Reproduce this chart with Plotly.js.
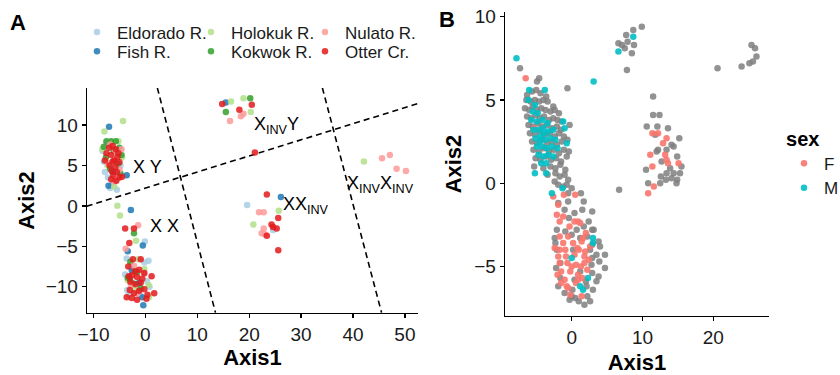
<!DOCTYPE html>
<html>
<head>
<meta charset="utf-8">
<script src="https://cdn.plot.ly/plotly-3.0.1.min.js"></script>
<style>html,body{margin:0;padding:0;background:#fff;}#chart{width:840px;height:375px;}</style>
</head>
<body>
<div id="chart"></div>
<script>
// ---------- Panel A: populations (Axis1, Axis2) ----------
const populations = ["Eldorado R.", "Fish R.", "Holokuk R.", "Kokwok R.", "Nulato R.", "Otter Cr."];
const popColors = ["#a6cee3", "#1f78b4", "#b2df8a", "#33a02c", "#fb9a99", "#e31a1c"];

const eldoradoX = [-8.2,-7.8,-7.2,-6.3,-5.5,-6.8,-7.5,-4.8,-8.0, -0.1,-3.6,-0.2,0.6,-3.9,0.3,-3.5,-1.0,0.8,-2.7,-3.2, 19.6,24.6];
const eldoradoY = [6.8,4.2,3.5,2.8,2.0,2.2,7.8,5.0,5.5, -4.4,-6.5,-7.0,-6.8,-8.5,-9.3,-10.4,-11.1,-10.0,-7.6,-11.0, 0.1,-3.0];

const fishX = [-7.0,-7.1,-3.6,-6.2, -2.8,-0.5,-3.4,-0.4,-2.6,-1.2,-0.6, 15.5, 26.1];
const fishY = [9.8,2.5,3.8,4.2, -0.5,-4.9,-5.6,-12.3,-8.0,-9.5,-11.3, 12.8, 1.1];

const holokukX = [-4.3,-7.9,-5.2,-8.3,-4.5,-6.0,-7.3, -5.4,-4.9,-1.8,-0.2,-3.4,0.6,-2.0,0.7,-1.4, 16.5,18.9,20.3, 25.7,20.8, 42.1];
const holokukY = [10.5,9.2,8.0,7.0,6.0,2.4,5.0, 0.0,-1.2,-4.3,-7.8,-9.2,-9.8,-10.4,-11.3,-6.6, 12.9,13.3,11.6, -0.6,-2.3, 5.5];

const kokwokX = [-7.5,-6.6,-5.7,-8.0,-5.0,-4.6,-7.6,-5.3,-6.8,-4.8,-6.1, -2.2,-2.9,-3.4,-1.6,-2.3,-0.9,-3.0, 20.2,15.5];
const kokwokY = [8.0,8.0,8.0,7.3,7.2,6.3,6.0,5.2,4.6,4.0,6.8, -3.4,-6.9,-8.9,-8.2,-9.6,-10.2,-9.0, 13.3,11.6];

const nulatoX = [-6.8,-5.8,-4.6,-7.2,-5.0,-6.0, -1.4,-3.8,-2.2,-0.3,-1.5,-2.8, 18.9,16.3,18.4, 21.9,22.8,22.8,22.4,23.0, 45.6,47.1,48.4,50.2];
const nulatoY = [7.6,6.7,7.0,5.3,4.5,3.0, -2.4,-5.3,-7.4,-8.4,-10.8,-9.8, 11.4,10.5,11.1, -0.8,-0.8,-2.8,-3.4,-3.5, 5.9,6.3,4.6,4.3];

const otterX = [-7.0,-6.3,-5.7,-7.5,-6.6,-5.2,-7.8,-6.0,-5.0,-6.9,-5.8,-6.5,-5.5,-6.2,-5.0,-6.6,-5.6,-4.5,-6.3,-5.4,
  -3.9,-2.2,-3.1,1.2,1.7,-2.4,-0.9,-3.3,-2.0,-1.2,-0.2,-3.2,-2.6,-1.6,-0.6,-2.9,-1.9,-0.9,-3.0,-2.2,-1.2,-0.2,0.4,-2.6,-1.6,0.2,-3.6,
  14.8,18.1,20.5,21.1, 23.4,25.6,24.3,24.6,25.3,23.4,25.6];
const otterY = [7.2,7.4,7.0,6.5,6.3,6.5,5.6,5.6,5.4,5.0,4.8,4.3,4.2,3.8,3.5,3.3,3.1,3.6,5.5,6.0,
  -2.8,-2.8,-4.6,-8.7,-10.8,-6.6,-6.6,-7.5,-8.1,-7.9,-8.3,-8.7,-8.6,-8.8,-9.0,-9.4,-9.7,-9.5,-10.4,-10.8,-10.5,-10.3,-11.0,-11.4,-11.6,-11.5,-11.3,
  12.6,11.9,12.5,6.6, 1.4,-1.5,-2.3,-2.6,-2.8,-3.7,-5.5];

// karyotype boundary lines (dashed)
const diagX = [-11.3, 53.0];
const diagY = [-0.05, 12.75];
const leftBoundX = [2.3, 13.5];
const leftBoundY = [14.6, -13.2];
const rightBoundX = [34.1, 45.5];
const rightBoundY = [14.6, -13.2];

// karyotype labels
const karyoText = ["X Y", "X X", "X<sub>INV</sub>Y", "XX<sub>INV</sub>", "X<sub>INV</sub>X<sub>INV</sub>"];
const karyoX = [-2.8, 0.5, 20.6, 26.1, 38.5];
const karyoY = [4.8, -2.5, 10.0, 0.1, 2.7];

// ---------- Panel B: sex ----------
const sexLevels = ["F", "M"];
const sexColors = ["#F8766D", "#00BFC4"];

const naX = [
  -7.3,-4.9,-4.6,-0.6,
  -5.6,-5.0,-4.4,-3.6,-6.3,
  -6.4,-5.8,-5.2,-4.6,-4.0,-3.4,-2.6,
  -6.6,-6.0,-5.5,-4.9,-4.3,-3.7,-3.0,-2.4,-1.8,
  -6.3,-5.7,-5.1,-4.5,-3.9,-3.2,-2.6,-2.0,-1.4,
  -6.1,-5.5,-4.8,-4.2,-3.5,-2.8,-2.1,-1.5,-0.3,
  -5.9,-5.2,-4.5,-3.8,-3.1,-2.4,-1.8,-1.1,
  -5.6,-4.9,-4.2,-3.5,-2.8,-2.1,-1.4,-0.6,
  -5.4,-4.6,-3.9,-3.2,-2.5,-1.8,-1.1,-0.4,
  -5.1,-4.4,-3.6,-2.9,-2.2,-1.5,-0.7,
  -5.3,-4.0,-3.0,-2.3,-1.6,-0.9,
  -3.4,-2.3,-1.7,-1.0,
  -2.4,-1.9,-1.2,-0.7,0.0,-0.5,
  -1.9,-0.5,1.7,1.3,-0.5,0.4,1.5,2.9,-1.0,2.4,-0.4,-2.1,-0.9,0.7,1.7,2.9,3.1,0.0,1.2,2.2,3.8,-2.4,-2.3,2.9,4.0,
  0.2,2.6,-2.1,3.5,4.7,2.9,3.9,2.8,4.7,1.2,2.9,3.8,-1.6,0.4,2.0,3.5,0.1,2.1,3.0,0.0,2.2,0.5,1.0,2.6,1.8,-1.0,-1.6,-2.2,-1.9,-0.3,
  6.7,
  11.5,11.5,12.4,10.6,12.1,13.6,15.2,14.4,12.0,14.9,12.7,13.9,15.5,10.5,13.4,14.4,15.3,12.6,14.1,14.9,12.5,13.3,10.8,14.8,11.8,12.2,14.1,13.4,
  9.9,8.7,7.7,6.6,7.9,8.8,7.5,8.5,7.1,7.8,
  20.6,24.0,25.1,25.6,26.1,25.4,25.9
];
const naY = [
  6.9,6.1,6.3,5.7,
  5.5,5.6,5.4,5.2,5.3,
  5.0,4.9,5.0,4.9,5.0,4.9,4.6,
  4.5,4.4,4.6,4.4,4.5,4.4,4.3,4.4,4.2,
  4.0,3.9,4.1,3.9,4.0,3.8,3.9,3.8,3.7,
  3.5,3.4,3.6,3.4,3.5,3.3,3.4,3.2,3.5,
  3.0,2.9,3.1,2.9,3.0,2.8,3.0,2.8,
  2.5,2.4,2.6,2.4,2.5,2.3,2.5,2.6,
  2.0,1.9,2.1,1.9,2.0,1.8,2.0,1.9,
  1.5,1.4,1.6,1.4,1.5,1.3,1.6,
  1.0,0.9,1.0,0.9,1.1,0.8,
  0.5,0.6,0.4,0.5,
  0.1,-0.1,-0.2,-0.1,-0.3,0.2,
  -1.2,-1.1,-1.1,-0.6,-0.6,-1.8,-1.6,-1.7,-1.6,-2.3,-2.1,-2.8,-2.9,-2.8,-2.6,-2.8,-2.8,-3.1,-3.3,-3.2,-3.5,-3.3,-3.6,-3.7,-3.8,
  -4.0,-4.0,-4.0,-4.3,-4.3,-4.5,-4.7,-4.9,-5.1,-5.3,-5.4,-5.6,-5.7,-5.8,-5.9,-5.9,-6.4,-6.2,-6.4,-6.8,-6.8,-6.9,-7.1,-7.1,-7.3,-6.6,-4.8,-5.1,-6.2,-7.0,
  -0.4,
  5.2,4.1,4.1,3.4,3.4,3.3,2.7,2.2,1.9,1.6,1.3,0.9,1.0,0.8,0.6,0.6,0.6,0.4,0.3,0.2,0.0,0.2,0.0,0.0,2.9,2.0,2.3,2.0,
  9.4,9.2,8.9,8.4,8.5,8.3,8.1,7.8,8.3,6.8,
  6.9,7.0,7.2,7.3,7.6,8.3,8.1
];

const femaleX = [-6.5,-5.3,
  -2.6,-1.1,0.5,-1.9,-2.1,-1.7,0.4,0.9,1.2,-1.7,-0.5,1.6,-1.2,0.2,1.4,-1.7,-0.9,1.0,1.9,-1.9,0.4,1.8,-1.7,-0.6,0.6,1.8,2.4,
  -1.5,-0.2,0.9,2.2,-1.0,0.9,1.5,-0.5,0.6,-0.7,1.4,-1.5,-0.8,0.0,1.3,-2.4,2.6,-0.3,2.0,-1.2,0.8,-0.2,-2.0,
  11.4,12.2,13.4,12.9,11.1,13.2,13.4,11.4,15.1,13.6,11.6,10.8];
const femaleY = [6.3,3.3,
  -0.8,-0.7,-0.7,-1.3,-1.9,-2.3,-2.3,-2.3,-2.4,-3.2,-3.2,-3.3,-3.6,-3.6,-3.5,-4.0,-4.0,-4.0,-4.1,-4.4,-4.3,-4.4,-4.8,-4.8,-4.9,-4.8,-4.6,
  -5.3,-5.3,-5.5,-5.2,-5.8,-5.8,-5.7,-6.3,-6.0,-6.2,-6.8,-6.0,-4.4,-5.0,-5.0,-3.9,-3.8,-2.6,-3.0,-2.0,-3.9,-6.7,-5.5,
  3.0,3.0,2.7,2.4,1.7,1.7,1.4,1.0,1.2,1.2,-0.2,-0.6];

const maleX = [-7.8,3.1,-6.0,-3.8,-6.1,-5.2,-5.5,-4.8,-5.7,-4.9,-4.1,-3.4,-1.2,-5.4,-4.7,-4.0,-3.3,-2.6,-1.0,
  -5.1,-4.4,-3.7,-3.0,-2.3,-0.7,-4.9,-4.2,-3.5,-2.8,-2.0,-4.7,-4.0,-3.3,-2.6,-4.3,-3.6,-5.2,-3.6,-4.5,-3.9,
  -1.3,-2.8,3.0,3.0,2.3,1.6,0.0,1.2, 8.7,6.6];
const maleY = [7.5,6.1,5.6,5.6,5.0,4.7,4.3,4.2,3.8,3.7,3.8,3.6,3.7,3.2,3.2,3.3,3.1,3.2,3.3,
  2.7,2.8,2.6,2.7,2.6,2.4,2.2,2.2,2.1,2.2,2.1,1.7,1.6,1.7,1.6,1.2,1.2,0.6,0.6,2.5,3.0,
  -0.3,-0.6,-3.3,-3.6,-5.7,-6.4,-4.5,-6.2, 8.8,7.9];

// ---------- build traces ----------
const popX = [eldoradoX, fishX, holokukX, kokwokX, nulatoX, otterX];
const popY = [eldoradoY, fishY, holokukY, kokwokY, nulatoY, otterY];
// legend rows: row 1 = Eldorado/Holokuk/Nulato, row 2 = Fish/Kokwok/Otter
const popLegend = ["legend", "legend2", "legend", "legend2", "legend", "legend2"];

const traces = [];
const dashLine = {color: "#000", width: 1.6, dash: "6px,4px"};
[[diagX, diagY], [leftBoundX, leftBoundY], [rightBoundX, rightBoundY]].forEach(([lx, ly]) => {
  traces.push({type: "scatter", mode: "lines", x: lx, y: ly, xaxis: "x", yaxis: "y",
    line: dashLine, showlegend: false, hoverinfo: "skip"});
});
populations.forEach((name, i) => {
  traces.push({type: "scatter", mode: "markers", name: name, x: popX[i], y: popY[i],
    xaxis: "x", yaxis: "y", legend: popLegend[i],
    marker: {color: popColors[i], size: 6.5, opacity: 0.85}});
});
traces.push({type: "scatter", mode: "markers", name: "NA", x: naX, y: naY, xaxis: "x2", yaxis: "y2",
  showlegend: false, marker: {color: "#7f7f7f", size: 6.5, opacity: 0.85}});
const sexX = [femaleX, maleX];
const sexY = [femaleY, maleY];
const sexLegend = ["legend4", "legend5"];
sexLevels.forEach((s, i) => {
  traces.push({type: "scatter", mode: "markers", name: s, x: sexX[i], y: sexY[i], xaxis: "x2", yaxis: "y2",
    legend: sexLegend[i], marker: {color: sexColors[i], size: 6.5, opacity: 0.9}});
});

const FONT = "Liberation Sans, Arial, sans-serif";
const axBase = {
  showgrid: false, zeroline: false, showline: true, linecolor: "#000", linewidth: 1.3,
  ticks: "outside", ticklen: 4, tickwidth: 1.3, tickcolor: "#000",
  tickfont: {family: FONT, size: 19, color: "#1a1a1a"}, automargin: false
};
const titleFont = {family: FONT, size: 22, color: "#000", weight: "bold"};

const legendFont = {family: FONT, size: 17, color: "#1a1a1a"};
const rowLegend = {orientation: "h", font: legendFont, bgcolor: "rgba(0,0,0,0)", xanchor: "left", yanchor: "top",
  entrywidth: 69, entrywidthmode: "pixels"};
const sexLegendBase = {orientation: "v", font: legendFont, bgcolor: "rgba(0,0,0,0)", xanchor: "left", yanchor: "top"};

const annotations = karyoText.map((t, i) => ({
  text: t, x: karyoX[i], y: karyoY[i], xref: "x", yref: "y", xanchor: "left", yanchor: "middle",
  showarrow: false, font: {family: FONT, size: 18, color: "#000"}
}));
annotations.push({text: "A", xref: "paper", yref: "paper", x: -0.101, y: 0.967, xanchor: "center", yanchor: "middle",
  showarrow: false, font: {family: FONT, size: 22, color: "#000", weight: "bold"}});
annotations.push({text: "B", xref: "paper", yref: "paper", x: 0.528, y: 0.974, xanchor: "center", yanchor: "middle",
  showarrow: false, font: {family: FONT, size: 22, color: "#000", weight: "bold"}});

const layout = {
  width: 840, height: 375,
  margin: {l: 87, r: 71, t: 12, b: 59, autoexpand: false},
  paper_bgcolor: "#fff", plot_bgcolor: "#fff",
  font: {family: FONT},
  xaxis: Object.assign({}, axBase, {domain: [0, 0.4853], range: [-11.25, 52.52], tickvals: [-10, 0, 10, 20, 30, 40, 50],
    title: {text: "Axis1", font: titleFont, standoff: 3}, anchor: "y"}),
  yaxis: Object.assign({}, axBase, {domain: [0.0099, 0.75], range: [-13.25, 14.58], tickvals: [-10, -5, 0, 5, 10],
    title: {text: "Axis2", font: titleFont, standoff: 5}, anchor: "x"}),
  xaxis2: Object.assign({}, axBase, {domain: [0.6129, 1], range: [-9.42, 27.87], tickvals: [0, 10, 20],
    title: {text: "Axis1", font: titleFont, standoff: 11}, anchor: "y2"}),
  yaxis2: Object.assign({}, axBase, {domain: [0, 1], range: [-7.98, 10.28], tickvals: [-5, 0, 5, 10],
    title: {text: "Axis2", font: titleFont, standoff: 6}, anchor: "x2"}),
  legend: Object.assign({}, rowLegend, {x: -0.0147, y: 0.992}),
  legend2: Object.assign({}, rowLegend, {x: -0.0147, y: 0.929}),
  legend4: Object.assign({}, sexLegendBase, {x: 1.022, y: 0.646,
    title: {text: "sex", font: {family: FONT, size: 20, color: "#000", weight: "bold"}}}),
  legend5: Object.assign({}, sexLegendBase, {x: 1.022, y: 0.480}),
  annotations: annotations,
  showlegend: true
};

Plotly.newPlot("chart", traces, layout, {displayModeBar: false, staticPlot: true});
</script>
</body>
</html>
